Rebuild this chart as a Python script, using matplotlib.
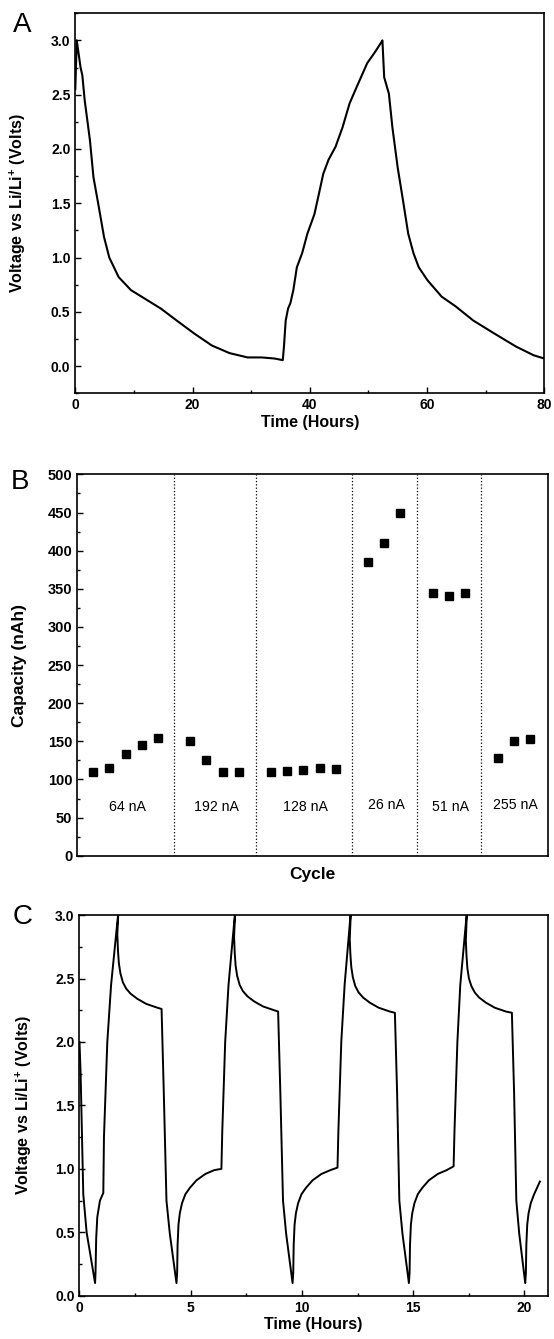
import matplotlib
matplotlib.use("Agg")
import matplotlib.pyplot as plt
from matplotlib.ticker import MultipleLocator

plt.rcParams["font.family"] = ["Liberation Sans", "DejaVu Sans"]
plt.rcParams["mathtext.fontset"] = "custom"
plt.rcParams["mathtext.bf"] = "Liberation Sans:bold"
plt.rcParams["mathtext.rm"] = "Liberation Sans:bold"

# Panel A: first slow discharge / charge / discharge
a_time = [0.0, 0.25, 0.9, 1.2, 1.6, 2.5, 3.1, 4.0, 4.9, 5.8, 7.4, 9.5, 11.9, 14.6,
          17.3, 20.3, 23.3, 26.3, 29.4, 31.8, 34.0, 35.4, 35.6, 35.9, 36.3, 36.7,
          37.2, 37.8, 38.7, 39.6, 40.8, 41.7, 42.3, 43.2, 44.4, 45.6, 46.8, 48.0,
          49.8, 51.1, 52.3, 52.4, 52.7, 53.5, 54.1, 55.0, 55.9, 56.8, 57.7, 58.6,
          60.1, 62.5, 64.9, 67.9, 71.5, 75.2, 78.2, 80.0]
a_volt = [2.55, 3.00, 2.75, 2.68, 2.45, 2.08, 1.74, 1.47, 1.19, 1.00, 0.82, 0.70,
          0.62, 0.53, 0.42, 0.30, 0.19, 0.12, 0.08, 0.08, 0.07, 0.055, 0.18, 0.42,
          0.53, 0.58, 0.70, 0.91, 1.04, 1.22, 1.40, 1.62, 1.77, 1.90, 2.02, 2.20,
          2.42, 2.57, 2.79, 2.89, 2.99, 3.00, 2.66, 2.51, 2.20, 1.83, 1.53, 1.22,
          1.04, 0.91, 0.79, 0.64, 0.55, 0.42, 0.30, 0.18, 0.10, 0.07]

# Panel B: capacity per cycle at different currents
b_cycles = [[1, 2, 3, 4, 5], [7, 8, 9, 10], [12, 13, 14, 15, 16],
            [18, 19, 20], [22, 23, 24], [26, 27, 28]]
b_capacity = [[110, 115, 134, 145, 155], [150, 125, 110, 110],
              [110, 111, 112, 115, 114], [385, 410, 450], [345, 340, 345],
              [128, 150, 153]]
b_dividers = [6, 11.05, 17, 21, 25]
b_labels = ["64 nA", "192 nA", "128 nA", "26 nA", "51 nA", "255 nA"]
b_label_x = [3.1, 8.6, 14.1, 19.1, 23.1, 27.1]
b_label_y = [64, 64, 64, 66, 64, 67]

# Panel C: repeated cycling
c_time = [0.00, 0.05, 0.17, 0.32, 0.70,
          0.72, 0.75, 0.80, 0.92, 1.07,
          1.10, 1.25, 1.42, 1.75,
          1.70, 1.73, 1.77, 1.84, 1.95, 2.10, 2.30, 2.60, 3.00, 3.50, 3.69,
          3.79, 3.91, 4.06, 4.36,
          4.39, 4.41, 4.45, 4.51, 4.61, 4.76, 4.96, 5.26, 5.66, 6.06, 6.38,
          6.42, 6.55, 6.70, 7.00,
          6.95, 6.98, 7.02, 7.09, 7.20, 7.35, 7.55, 7.85, 8.25, 8.75, 8.93,
          9.03, 9.15, 9.29, 9.58,
          9.61, 9.63, 9.67, 9.73, 9.83, 9.98, 10.18, 10.48, 10.88, 11.28, 11.60,
          11.64, 11.77, 11.92, 12.20,
          12.15, 12.18, 12.22, 12.29, 12.40, 12.55, 12.75, 13.05, 13.45, 13.95, 14.18,
          14.28, 14.38, 14.52, 14.81,
          14.84, 14.86, 14.90, 14.96, 15.06, 15.21, 15.41, 15.71, 16.11, 16.51, 16.82,
          16.86, 16.99, 17.12, 17.42,
          17.37, 17.40, 17.44, 17.51, 17.62, 17.77, 17.97, 18.27, 18.67, 19.17, 19.44,
          19.54, 19.64, 19.77, 20.04,
          20.07, 20.09, 20.13, 20.19, 20.29, 20.44, 20.70]
c_volt = [2.00, 1.75, 0.80, 0.50, 0.10,
          0.18, 0.45, 0.62, 0.75, 0.81,
          1.25, 2.00, 2.45, 3.03,
          2.85, 2.72, 2.62, 2.54, 2.47, 2.42, 2.38, 2.34, 2.30, 2.27, 2.26,
          1.60, 0.75, 0.49, 0.10,
          0.18, 0.40, 0.56, 0.65, 0.73, 0.80, 0.85, 0.91, 0.96, 0.99, 1.00,
          1.30, 2.00, 2.45, 3.03,
          2.83, 2.70, 2.60, 2.52, 2.45, 2.40, 2.36, 2.32, 2.28, 2.25, 2.24,
          1.60, 0.75, 0.49, 0.10,
          0.18, 0.40, 0.56, 0.65, 0.73, 0.80, 0.85, 0.91, 0.96, 0.99, 1.01,
          1.30, 2.00, 2.45, 3.03,
          2.81, 2.69, 2.59, 2.51, 2.44, 2.39, 2.35, 2.31, 2.27, 2.24, 2.23,
          1.60, 0.75, 0.49, 0.10,
          0.18, 0.40, 0.56, 0.65, 0.73, 0.80, 0.85, 0.91, 0.96, 0.99, 1.02,
          1.30, 2.00, 2.45, 3.03,
          2.80, 2.68, 2.58, 2.50, 2.44, 2.39, 2.35, 2.31, 2.27, 2.24, 2.23,
          1.60, 0.75, 0.49, 0.10,
          0.18, 0.40, 0.56, 0.65, 0.73, 0.80, 0.90]

volt_label = r"Voltage vs Li/Li$^{\mathbf{+}}$ (Volts)"


def style_axes(ax, tick_size=10):
    for sp in ax.spines.values():
        sp.set_linewidth(1.2)
    ax.tick_params(which="both", direction="in", top=False, right=False,
                   width=1.0, labelsize=tick_size)
    ax.tick_params(which="major", length=4)
    ax.tick_params(which="minor", length=2.5)
    for lbl in ax.get_xticklabels() + ax.get_yticklabels():
        lbl.set_fontweight("bold")


fig = plt.figure(figsize=(5.54, 13.39), dpi=100)

# ---- Panel A
ax_a = fig.add_axes([0.1359, 0.7063, 0.8464, 0.2838])
ax_a.plot(a_time, a_volt, color="black", lw=1.5)
ax_a.set_xlim(0, 80)
ax_a.set_ylim(-0.25, 3.25)
ax_a.xaxis.set_major_locator(MultipleLocator(20))
ax_a.xaxis.set_minor_locator(MultipleLocator(10))
ax_a.yaxis.set_major_locator(MultipleLocator(0.5))
ax_a.yaxis.set_minor_locator(MultipleLocator(0.25))
ax_a.yaxis.set_major_formatter(lambda v, p: f"{v:.1f}")
style_axes(ax_a)
ax_a.set_xlabel("Time (Hours)", fontsize=11.5, fontweight="bold", labelpad=2)
ax_a.set_ylabel(volt_label, fontsize=11.5, fontweight="bold")
ax_a.yaxis.set_label_coords(-0.101, 0.5)

# ---- Panel B
ax_b = fig.add_axes([0.1390, 0.3609, 0.8496, 0.2848])
for xs, ys in zip(b_cycles, b_capacity):
    ax_b.plot(xs, ys, linestyle="none", marker="s", markersize=6,
              color="black")
for xd in b_dividers:
    ax_b.axvline(xd, color="black", linestyle=":", lw=0.9)
for lx, ly, txt in zip(b_label_x, b_label_y, b_labels):
    ax_b.text(lx, ly, txt, ha="center", va="center", fontsize=10.2)
ax_b.set_xlim(0, 29.1)
ax_b.set_ylim(0, 500)
ax_b.set_xticks([])
ax_b.yaxis.set_major_locator(MultipleLocator(50))
ax_b.yaxis.set_minor_locator(MultipleLocator(25))
style_axes(ax_b, tick_size=10.5)
ax_b.set_xlabel("Cycle", fontsize=12.5, fontweight="bold", labelpad=8)
ax_b.set_ylabel("Capacity (nAh)", fontsize=12.5, fontweight="bold")
ax_b.yaxis.set_label_coords(-0.107, 0.5)

# ---- Panel C
ax_c = fig.add_axes([0.1435, 0.0323, 0.8451, 0.2843])
ax_c.plot(c_time, c_volt, color="black", lw=1.4)
ax_c.set_xlim(0, 21.05)
ax_c.set_ylim(0, 3.0)
ax_c.xaxis.set_major_locator(MultipleLocator(5))
ax_c.xaxis.set_minor_locator(MultipleLocator(2.5))
ax_c.yaxis.set_major_locator(MultipleLocator(0.5))
ax_c.yaxis.set_minor_locator(MultipleLocator(0.25))
ax_c.yaxis.set_major_formatter(lambda v, p: f"{v:.1f}")
style_axes(ax_c)
ax_c.set_xlabel("Time (Hours)", fontsize=11.5, fontweight="bold", labelpad=2)
ax_c.set_ylabel(volt_label, fontsize=11.5, fontweight="bold")
ax_c.yaxis.set_label_coords(-0.098, 0.5)

# panel letters
fig.text(22 / 554, 1 - 25 / 1339, "A", fontsize=20, ha="center", va="center")
fig.text(20 / 554, 1 - 482 / 1339, "B", fontsize=20, ha="center", va="center")
fig.text(23 / 554, 1 - 917 / 1339, "C", fontsize=20, ha="center", va="center")

fig.savefig("out.png", dpi=100)
